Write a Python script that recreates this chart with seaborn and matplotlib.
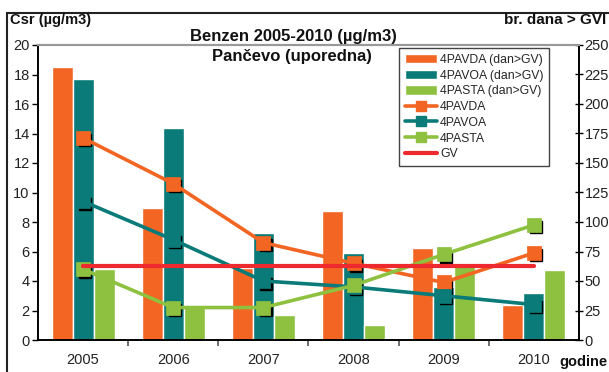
import numpy as np
import pandas as pd
import matplotlib
matplotlib.use("Agg")
import matplotlib.pyplot as plt
from matplotlib.transforms import offset_copy
from matplotlib.patches import Patch
from matplotlib.lines import Line2D
import seaborn as sns

years = ["2005", "2006", "2007", "2008", "2009", "2010"]

# days above limit value (right axis)
days_pavda = [231, 112, 61, 109, 78, 30]
days_pavoa = [221, 180, 91, 74, 45, 40]
days_pasta = [60, 28, 21, 13, 64, 59]

# mean concentration, µg/m3 (left axis)
conc_pavda = [13.7, 10.6, 6.6, 5.2, 3.9, 5.9]
conc_pavoa = [9.4, 6.8, 4.0, 3.6, 3.0, 2.4]
conc_pasta = [4.8, 2.2, 2.2, 3.7, 5.8, 7.8]
gv_limit = [5, 5, 5, 5, 5, 5]

stations = ["4PAVDA", "4PAVOA", "4PASTA"]
colors = ["#F26522", "#0A7B78", "#8DC13F"]
red = "#EE2A2E"

sns.set_theme(style="white")
plt.rcParams["font.family"] = ["Liberation Sans", "DejaVu Sans"]

bars = pd.DataFrame({
    "year": years * 3,
    "days": days_pavda + days_pavoa + days_pasta,
    "station": sum([[s + " (dan>GV)"] * len(years) for s in stations], []),
})
lines = pd.DataFrame({
    "year": years * 3,
    "conc": conc_pavda + conc_pavoa + conc_pasta,
    "station": sum([[s] * len(years) for s in stations], []),
})

fig = plt.figure(figsize=(6.09, 3.72), dpi=100)
ax = fig.add_axes([38 / 609, 1 - 340 / 372, 541 / 609, 295 / 372])
ax2 = ax.twinx()

# bars: days above GV on the right axis
sns.barplot(data=bars, x="year", y="days", hue="station", palette=colors,
            width=0.7, gap=0, saturation=1, ax=ax2, legend=False, errorbar=None)

# lines: concentrations on the left axis, drawn above the bars
ax.set_zorder(ax2.get_zorder() + 1)
ax.patch.set_visible(False)

pos = np.arange(len(years))
shadow = offset_copy(ax.transData, fig=fig, x=1.6, y=-1.8, units="points")
for vals in (conc_pavda, conc_pavoa, conc_pasta):
    ax.plot(pos, vals, "s", color="black", markersize=8, transform=shadow, zorder=2)

sns.pointplot(data=lines, x="year", y="conc", hue="station", palette=colors,
              markers="s", markersize=8, linewidth=2.6, ax=ax, legend=False,
              errorbar=None, zorder=3)
sns.lineplot(x=pos, y=gv_limit, color=red, linewidth=3, ax=ax, zorder=3)

ax.set_xlim(-0.5, 5.5)
ax.set_ylim(0, 20)
ax2.set_ylim(0, 250)
ax.set_yticks(np.arange(0, 21, 2))
ax2.set_yticks(np.arange(0, 251, 25))
ax.set_xticks(pos)
ax.set_xticklabels(years)
ax.set_xticks(np.arange(0.5, 5.0, 1.0), minor=True)
ax.set_xlabel("")
ax.set_ylabel("")
ax2.set_ylabel("")
ax2.set_xlabel("")

tick_font = 10.5
ax.tick_params(axis="x", which="major", length=0, pad=9, labelsize=tick_font, colors="#222222")
ax.tick_params(axis="x", which="minor", length=4, width=1.2, color="#555555", direction="out", bottom=True)
ax.tick_params(axis="y", length=4, width=1, color="black", direction="out", left=True,
               labelsize=tick_font, pad=2, labelcolor="#222222")
ax2.tick_params(axis="y", length=6, width=1, color="black", direction="inout", right=True,
                labelsize=tick_font, pad=1, labelcolor="#222222")

for a in (ax, ax2):
    for side in ("left", "right", "bottom"):
        a.spines[side].set_color("black")
        a.spines[side].set_linewidth(1.2)
    a.spines["top"].set_color("#999999")
    a.spines["top"].set_linewidth(1.5)

handles = [Patch(facecolor=c, label=s + " (dan>GV)") for s, c in zip(stations, colors)]
handles += [Line2D([], [], color=c, marker="s", markersize=7.5, linewidth=2.6, label=s)
            for s, c in zip(stations, colors)]
handles.append(Line2D([], [], color=red, linewidth=3, label="GV"))
leg = ax.legend(handles=handles, loc="upper right", bbox_to_anchor=(0.9445, 0.989),
                frameon=True, fancybox=False, framealpha=1, edgecolor="#444444",
                fontsize=8.8, handlelength=2.65, handleheight=0.85, labelspacing=0.3,
                handletextpad=0.25, borderpad=0.45, borderaxespad=0)
leg.get_frame().set_linewidth(1.0)

fig.text(293 / 609, 1 - 36 / 372, "Benzen 2005-2010 (µg/m3)", ha="center", va="center",
         fontsize=12, fontweight="bold", color="#111111")
fig.text(292 / 609, 1 - 57 / 372, "Pančevo (uporedna)", ha="center", va="center",
         fontsize=12, fontweight="bold", color="#111111")
fig.text(10 / 609, 1 - 20 / 372, "Csr (µg/m3)", ha="left", va="center",
         fontsize=10.5, fontweight="bold", color="#111111")
fig.text(606 / 609, 1 - 20 / 372, "br. dana > GVI", ha="right", va="center",
         fontsize=11, fontweight="bold", color="#111111")
fig.text(608 / 609, 1 - 362 / 372, "godine", ha="right", va="center",
         fontsize=10.5, fontweight="bold", color="#111111")

# outer frame of the chart area
frame = plt.Rectangle((7 / 609, -0.05), 1.2, 1 - 13 / 372 + 0.05, transform=fig.transFigure,
                      fill=False, edgecolor="#222222", linewidth=1.5, zorder=0)
fig.patches.append(frame)

fig.savefig("out.png", dpi=100)
